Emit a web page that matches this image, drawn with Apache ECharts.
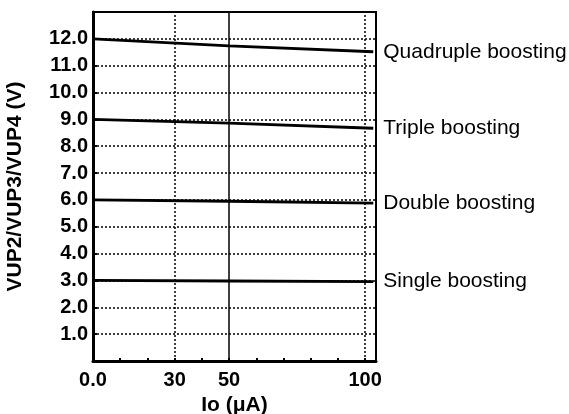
<!DOCTYPE html>
<html>
<head>
<meta charset="utf-8">
<script src="https://cdn.jsdelivr.net/npm/echarts@6/dist/echarts.min.js"></script>
<style>
  html, body { margin: 0; padding: 0; background: #fff; }
  #chart { width: 569px; height: 414px; }
</style>
</head>
<body>
<div id="chart"></div>
<script>
// Output current Io (µA) sample points
const current = [0, 50, 103];
// Boosted output voltages (V) at each current
const quadruple = [12.0, 11.74, 11.52];
const triple = [9.0, 8.86, 8.67];
const double = [6.0, 5.95, 5.88];
const single = [3.0, 2.98, 2.96];
const seriesNames = ['Quadruple boosting', 'Triple boosting', 'Double boosting', 'Single boosting'];
const xTickLabels = { 0: '0.0', 30: '30', 50: '50', 100: '100' };
const vGrid = [30, 50, 100];

const font = 'Liberation Sans, Arial, Helvetica, sans-serif';
const pair = arr => arr.map((v, i) => [current[i], v]);

function lineSeries(name, values, extra) {
  return Object.assign({
    name: name,
    type: 'line',
    data: pair(values),
    symbol: 'none',
    lineStyle: { color: '#000', width: 2.8 },
    endLabel: {
      show: true,
      formatter: '{a}',
      distance: 10,
      color: '#000',
      fontFamily: font,
      fontSize: 21
    },
    z: 5
  }, extra || {});
}

const chart = echarts.init(document.getElementById('chart'));
chart.setOption({
  animation: false,
  backgroundColor: '#fff',
  grid: {
    left: 93, right: 193, top: 12, bottom: 53,
    containLabel: false,
    outerBoundsMode: 'none',
    show: true, borderColor: '#000', borderWidth: 2, backgroundColor: 'transparent'
  },
  xAxis: {
    type: 'value',
    min: 0, max: 104, interval: 10,
    name: 'Io (\u03bcA)',
    nameLocation: 'middle',
    nameGap: 27,
    nameTextStyle: { fontFamily: font, fontSize: 21, fontWeight: 'bold', color: '#000' },
    axisLine: { lineStyle: { color: '#000', width: 3 } },
    axisTick: { show: true, inside: true, length: 3, lineStyle: { color: '#000', width: 2 } },
    axisLabel: {
      color: '#000', fontFamily: font, fontSize: 20, fontWeight: 'bold', margin: 9,
      formatter: v => (xTickLabels[v] !== undefined ? xTickLabels[v] : '')
    },
    splitLine: { show: false }
  },
  yAxis: {
    type: 'value',
    min: 0, max: 13, interval: 1,
    name: 'VUP2/VUP3/VUP4 (V)',
    nameLocation: 'middle',
    nameGap: 67,
    nameTextStyle: { fontFamily: font, fontSize: 21, fontWeight: 'bold', color: '#000' },
    axisLine: { lineStyle: { color: '#000', width: 3 } },
    axisTick: { show: true, inside: true, length: 4, lineStyle: { color: '#000', width: 2 } },
    minorTick: { show: true, splitNumber: 4, length: 2, lineStyle: { color: '#000', width: 1 } },
    axisLabel: {
      color: '#000', fontFamily: font, fontSize: 20, fontWeight: 'bold', margin: 5,
      formatter: v => (v >= 1 && v <= 12 ? v.toFixed(1) : '')
    },
    splitLine: { show: true, lineStyle: { color: '#000', width: 1.5, type: [2, 2] } }
  },
  series: [
    lineSeries(seriesNames[0], quadruple, {
      markLine: {
        silent: true,
        symbol: 'none',
        label: { show: false },
        data: vGrid.map(x => ({
          xAxis: x,
          lineStyle: { color: '#000', width: 1.5, type: x === 50 ? 'solid' : [2, 2] }
        }))
      }
    }),
    lineSeries(seriesNames[1], triple),
    lineSeries(seriesNames[2], double),
    lineSeries(seriesNames[3], single)
  ]
});
</script>
</body>
</html>
